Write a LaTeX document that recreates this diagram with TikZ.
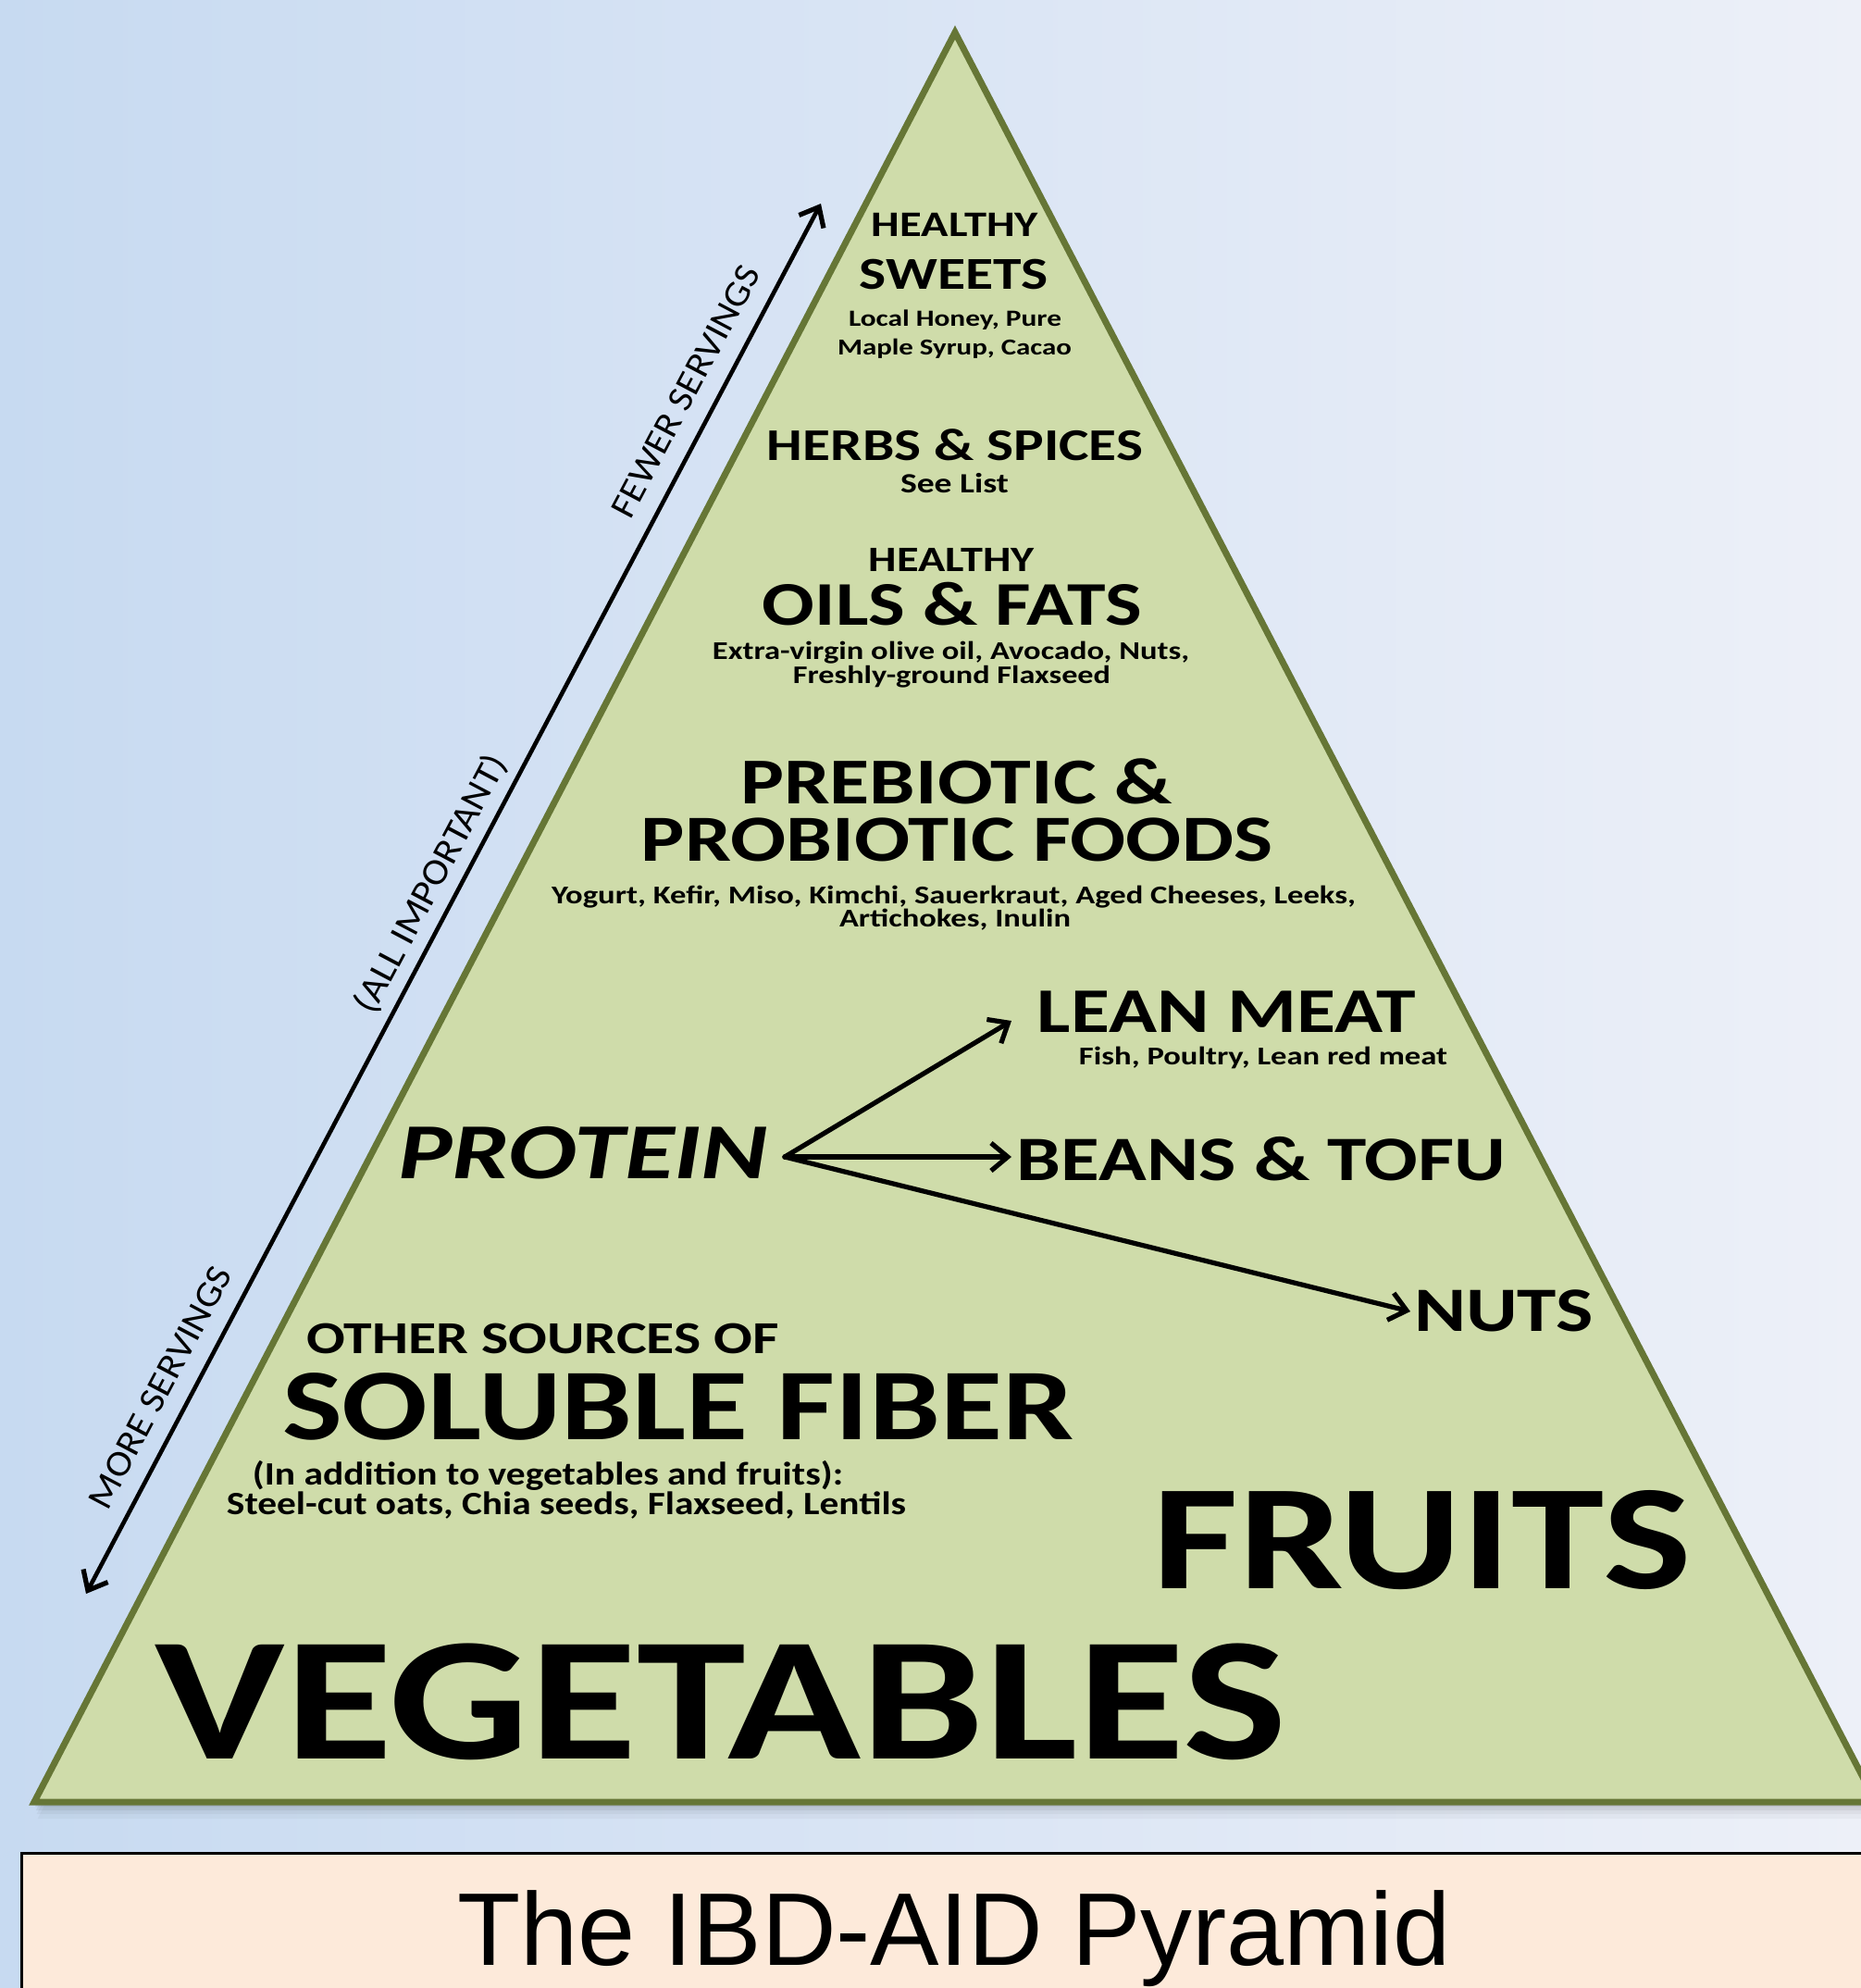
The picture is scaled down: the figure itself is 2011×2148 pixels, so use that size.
\documentclass[tikz,border=0pt]{standalone}
\usepackage{fontspec}
\usepackage{graphicx}
\setmainfont{Carlito}
\newfontfamily\arialfont{Liberation Sans}
\usetikzlibrary{arrows.meta}
\newdimen\upx \upx=0.5pt
\newcommand{\fw}[3][0.80]{\resizebox{#2\upx}{!}{\scalebox{1}[#1]{#3}}}
\newcommand{\fwa}[2]{\resizebox{#1\upx}{!}{#2}}
\definecolor{pyrfill}{RGB}{207,220,170}
\definecolor{pyredge}{RGB}{102,118,54}
\definecolor{bgleft}{RGB}{199,218,241}
\definecolor{bgright}{RGB}{237,240,248}
\definecolor{titlefill}{RGB}{253,234,218}
\begin{document}
\begin{tikzpicture}[x=0.5pt,y=-0.5pt,
  lbl/.style={anchor=base,inner sep=0pt,font=\bfseries},
  sidelbl/.style={inner sep=0pt,rotate=62.1,font=\mdseries},
  barb/.tip={Straight Barb[length=9pt,width=15pt,line width=2.6pt]},
  parrow/.style={line width=2.6pt,line cap=round,-barb},
  sarrow/.style={line width=2.3pt,line cap=round,barb-barb}]
\useasboundingbox (0,0) rectangle (2011,2148);
% background
\fill[left color=bgleft,right color=bgright] (0,0) rectangle (2011,2148);
% pyramid shadow
\foreach \d/\o in {18/0.03,13/0.04,9/0.06,5/0.08}
  \fill[black,opacity=\o] (1032+0.2*\d,35+\d) -- (37+0.2*\d,1947+\d) -- (2027+0.2*\d,1947+\d) -- cycle;
% pyramid
\coordinate (apex) at (1032,35);
\coordinate (bl) at (37,1947);
\coordinate (br) at (2027,1947);
\filldraw[fill=pyrfill,draw=pyredge,line width=3.5pt,line join=miter] (apex) -- (bl) -- (br) -- cycle;
% title box
\filldraw[fill=titlefill,draw=black,line width=1.5pt] (23,2002) rectangle (2060,2200);
\node[anchor=base,inner sep=0pt] (title) at (1031,2123) {\arialfont\fwa{1073}{The IBD-AID Pyramid}};
% servings arrow
\coordinate (svlow) at (93,1722);
\coordinate (svhigh) at (887,220);
\draw[sarrow] (svlow) -- (svhigh);
\node[sidelbl] (fewer) at (741,423) {\fw[0.92]{302}{FEWER SERVINGS}};
\node[sidelbl] (allimp) at (466,955) {\fw[0.92]{310}{(ALL IMPORTANT)}};
\node[sidelbl] (more) at (173,1499) {\fw[0.92]{290}{MORE SERVINGS}};
% sweets
\node[lbl] (h1) at (1032,255) {\fw{180}{HEALTHY}};
\node[lbl] (sweets) at (1031,312) {\fw{204}{SWEETS}};
\node[lbl] (sw1) at (1032,352) {\fw{230}{Local Honey, Pure}};
\node[lbl] (sw2) at (1031.5,383) {\fw{253}{Maple Syrup, Cacao}};
% herbs
\node[lbl] (herbs) at (1032,497) {\fw{406}{HERBS \& SPICES}};
\node[lbl] (seelist) at (1031.5,532) {\fw{117}{See List}};
% oils
\node[lbl] (h2) at (1028.5,617) {\fw{179}{HEALTHY}};
\node[lbl] (oils) at (1029,675) {\fw{410}{OILS \& FATS}};
\node[lbl] (oil1) at (1027.5,712) {\fw{515}{Extra-virgin olive oil, Avocado, Nuts,}};
\node[lbl] (oil2) at (1028.5,738) {\fw{343}{Freshly-ground Flaxseed}};
% prebiotic
\node[lbl] (pre) at (1033.5,868) {\fw{467}{PREBIOTIC \&}};
\node[lbl] (pro) at (1034,930) {\fw{682}{PROBIOTIC FOODS}};
\node[lbl] (pro1) at (1030.5,976) {\fw{869}{Yogurt, Kefir, Miso, Kimchi, Sauerkraut, Aged Cheeses, Leeks,}};
\node[lbl] (pro2) at (1032,1001) {\fw{250}{Artichokes, Inulin}};
% protein
\node[lbl] (lean) at (1325.5,1115) {\fw{409}{LEAN MEAT}};
\node[lbl] (lean1) at (1365,1150) {\fw{398}{Fish, Poultry, Lean red meat}};
\node[lbl,font=\bfseries\itshape] (protein) at (630,1273) {\fw[0.78]{400}{PROTEIN}};
\node[lbl] (beans) at (1363,1275) {\fw{528}{BEANS \& TOFU}};
\node[lbl] (nuts) at (1625,1438) {\fw{194}{NUTS}};
\coordinate (fork) at (848,1250);
\coordinate (leantip) at (1093,1103);
\coordinate (beanstip) at (1093,1250);
\coordinate (nutstip) at (1524,1417);
\draw[parrow] (fork) -- (leantip);
\draw[parrow] (fork) -- (beanstip);
\draw[parrow] (fork) -- (nutstip);
% fiber
\node[lbl] (other) at (586.5,1462) {\fw{510}{OTHER SOURCES OF}};
\node[lbl] (fiber) at (732.5,1555) {\fw{855}{SOLUBLE FIBER}};
\node[lbl] (fib1) at (592,1604) {\fw[0.85]{638}{(In addition to vegetables and fruits):}};
\node[lbl] (fib2) at (612,1636) {\fw[0.85]{734}{Steel-cut oats, Chia seeds, Flaxseed, Lentils}};
% base
\node[lbl] (fruits) at (1537,1716) {\fw{582}{FRUITS}};
\node[lbl] (veg) at (779,1900) {\fw{1222}{VEGETABLES}};
\end{tikzpicture}
\end{document}
